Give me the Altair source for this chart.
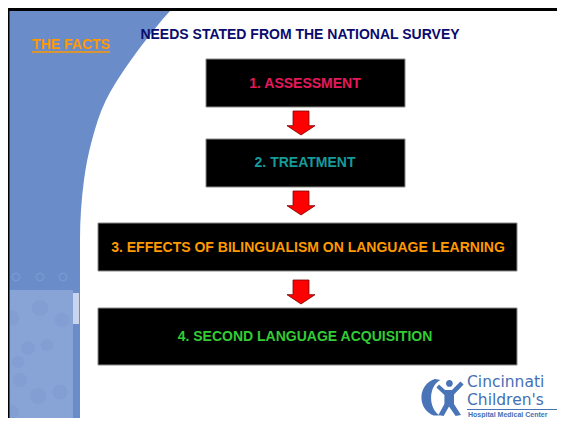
import altair as alt
import pandas as pd

W, H = 549, 410
XD = [8, 557]
YD = [8, 418]
xs = alt.Scale(domain=XD, nice=False, zero=False)
ys = alt.Scale(domain=YD, nice=False, zero=False, reverse=True)

FONT = "Liberation Sans, Arial, sans-serif"

# ---- slide content ----
title_text = ["NEEDS STATED FROM THE NATIONAL SURVEY"]
title_x = [300]
title_y = [35]

facts_text = ["THE FACTS"]
facts_x = [71]
facts_y = [45]
facts_ul_x = [32, 110]
facts_ul_y = [52]

step_labels = ["1. ASSESSMENT", "2. TREATMENT",
               "3. EFFECTS OF BILINGUALISM ON LANGUAGE LEARNING",
               "4. SECOND LANGUAGE ACQUISITION"]
step_colors = ["#E6185C", "#169B9B", "#FF9900", "#33CC33"]
box_left = [206, 206, 98, 98]
box_right = [405, 405, 517, 517]
box_top = [59, 139, 223, 308]
box_bottom = [107, 187, 271, 365]
text_x = [305, 305, 308, 305]
text_y = [84, 163, 248, 337]

arrow_x = [301, 301, 301]
arrow_y = [123, 203, 292]

# left decorative blue band edge
curve_y = [11, 20, 35, 45, 60, 70, 100, 140, 180, 240, 290]
curve_x = [170, 162, 150, 142, 131, 124, 106, 92, 84, 80, 80]

bubble_x = [12, 40, 62, 28, 47, 18, 20, 38, 60, 12]
bubble_y = [318, 308, 320, 348, 345, 362, 380, 396, 392, 412]
bubble_s = [220, 260, 200, 180, 150, 150, 200, 260, 220, 180]

icon_x = [16, 40, 63]
icon_y = [277, 277, 277]

logo_lines = ["Cincinnati", "Children's"]
logo_x = [467, 467]
logo_y = [387, 405]

BLUE = "#6A8CC9"
LIGHT = "#88A3D6"

def enc_xy(ch, xf="x", yf="y"):
    return ch.encode(x=alt.X(f"{xf}:Q", scale=xs, axis=None),
                     y=alt.Y(f"{yf}:Q", scale=ys, axis=None))

# blue curved band
band_df = pd.DataFrame({"y": curve_y + [418], "x": curve_x + [80], "x0": [8] * (len(curve_y) + 1)})
band = alt.Chart(band_df).mark_area(orient="horizontal", interpolate="monotone", color=BLUE).encode(
    y=alt.Y("y:Q", scale=ys, axis=None),
    x=alt.X("x:Q", scale=xs, axis=None),
    x2="x0:Q",
)

light_df = pd.DataFrame({"x": [8], "x2": [73], "y": [290], "y2": [418]})
light = alt.Chart(light_df).mark_rect(color=LIGHT).encode(
    x=alt.X("x:Q", scale=xs, axis=None), x2="x2:Q",
    y=alt.Y("y:Q", scale=ys, axis=None), y2="y2:Q")

patch_df = pd.DataFrame({"x": [73], "x2": [79], "y": [293], "y2": [324]})
patch = alt.Chart(patch_df).mark_rect(color="#C9D5EC").encode(
    x=alt.X("x:Q", scale=xs, axis=None), x2="x2:Q",
    y=alt.Y("y:Q", scale=ys, axis=None), y2="y2:Q")

bub_df = pd.DataFrame({"x": bubble_x, "y": bubble_y, "s": bubble_s})
bubbles = enc_xy(alt.Chart(bub_df).mark_circle(color="#7B96CE", opacity=0.4)).encode(
    size=alt.Size("s:Q", scale=None, legend=None))

icon_df = pd.DataFrame({"x": icon_x, "y": icon_y})
icons = enc_xy(alt.Chart(icon_df).mark_point(shape="circle", size=55, color="#86A0D6",
                                             strokeWidth=1.5, opacity=0.6))

# borders
top_df = pd.DataFrame({"x": [8], "x2": [557], "y": [8], "y2": [11]})
top_border = alt.Chart(top_df).mark_rect(color="black").encode(
    x=alt.X("x:Q", scale=xs, axis=None), x2="x2:Q",
    y=alt.Y("y:Q", scale=ys, axis=None), y2="y2:Q")
left_df = pd.DataFrame({"x": [8], "x2": [9.5], "y": [8], "y2": [418]})
left_border = alt.Chart(left_df).mark_rect(color="black").encode(
    x=alt.X("x:Q", scale=xs, axis=None), x2="x2:Q",
    y=alt.Y("y:Q", scale=ys, axis=None), y2="y2:Q")

# titles
title = enc_xy(alt.Chart(pd.DataFrame({"x": title_x, "y": title_y, "t": title_text})).mark_text(
    font=FONT, fontSize=14, fontWeight="bold", color="#0B0B6E", align="center", baseline="middle"
)).encode(text="t:N")

facts = enc_xy(alt.Chart(pd.DataFrame({"x": facts_x, "y": facts_y, "t": facts_text})).mark_text(
    font=FONT, fontSize=14, fontWeight="bold", color="#FF9900", align="center", baseline="middle"
)).encode(text="t:N")

ul_df = pd.DataFrame({"x": [facts_ul_x[0]], "x2": [facts_ul_x[1]], "y": facts_ul_y})
underline = alt.Chart(ul_df).mark_rule(color="#FF9900", strokeWidth=1.5).encode(
    x=alt.X("x:Q", scale=xs, axis=None), x2="x2:Q", y=alt.Y("y:Q", scale=ys, axis=None))

# boxes
box_df = pd.DataFrame({"x": box_left, "x2": box_right, "y": box_top, "y2": box_bottom})
boxes = alt.Chart(box_df).mark_rect(color="black", stroke="#8A8A8A", strokeWidth=1).encode(
    x=alt.X("x:Q", scale=xs, axis=None), x2="x2:Q",
    y=alt.Y("y:Q", scale=ys, axis=None), y2="y2:Q")

txt_df = pd.DataFrame({"x": text_x, "y": text_y, "t": step_labels, "c": step_colors})
texts = enc_xy(alt.Chart(txt_df).mark_text(
    font=FONT, fontSize=14, fontWeight="bold", align="center", baseline="middle"
)).encode(text="t:N", color=alt.Color("c:N", scale=None, legend=None))

ARROW = "M-0.57,-0.857 L0.57,-0.857 L0.57,0.19 L1,0.19 L0,0.857 L-1,0.19 L-0.57,0.19 Z"
arr_df = pd.DataFrame({"x": arrow_x, "y": arrow_y})
arrows = enc_xy(alt.Chart(arr_df).mark_point(
    shape=ARROW, size=784, filled=True, fill="#FF0000", stroke="#7A0000", strokeWidth=0.8, opacity=1))

# logo
logo_txt = enc_xy(alt.Chart(pd.DataFrame({"x": logo_x, "y": logo_y, "t": logo_lines})).mark_text(
    font="DejaVu Sans, sans-serif", fontSize=15.5, color="#4470B4",
    align="left", baseline="alphabetic")).encode(text="t:N")
sub_txt = enc_xy(alt.Chart(pd.DataFrame({"x": [468], "y": [414.5], "t": ["Hospital Medical Center"]})).mark_text(
    font=FONT, fontSize=7, fontWeight="bold", color="#4470B4", align="left", baseline="middle")).encode(text="t:N")
sub_line = alt.Chart(pd.DataFrame({"x": [467], "x2": [557], "y": [409.5]})).mark_rule(
    color="#4470B4", strokeWidth=1).encode(
    x=alt.X("x:Q", scale=xs, axis=None), x2="x2:Q", y=alt.Y("y:Q", scale=ys, axis=None))

ICON = ("M-0.55,-0.9 A0.9,0.95 0 0 0 -0.62,0.92 L-0.32,0.92 A0.7,0.95 0 0 1 -0.28,-0.85 Z "
        "M0.0,-0.68 A0.17,0.17 0 1 0 0.34,-0.68 A0.17,0.17 0 1 0 0.0,-0.68 Z "
        "M-0.35,-0.62 L-0.05,-0.35 L0.3,-0.35 L0.72,-0.78 L0.88,-0.62 L0.4,-0.12 L0.4,0.35 "
        "L0.75,0.9 L0.48,0.95 L0.15,0.48 L-0.12,0.95 L-0.38,0.9 L-0.08,0.35 L-0.08,-0.1 L-0.48,-0.48 Z")
icon = enc_xy(alt.Chart(pd.DataFrame({"x": [446], "y": [397]})).mark_point(
    shape=ICON, size=1600, filled=True, fill="#4A74B8", strokeWidth=0, opacity=1))

chart = alt.layer(
    band, light, patch, bubbles, icons, top_border, left_border,
    title, facts, underline, boxes, texts, arrows,
    icon, logo_txt, sub_txt, sub_line
).properties(
    width=W, height=H, padding=0, autosize=alt.AutoSizeParams(type="none"),
    background="white"
).configure_view(stroke=None)

chart.save("out.html", embed_options={"renderer": "svg", "actions": False})
